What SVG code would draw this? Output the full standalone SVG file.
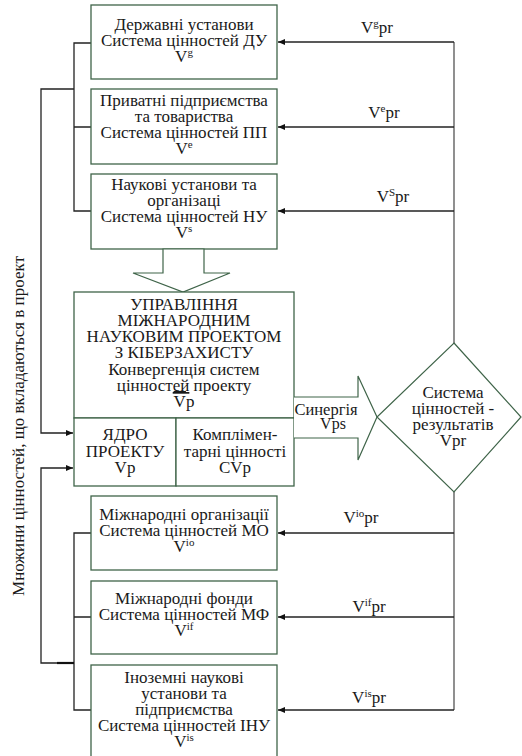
<svg xmlns="http://www.w3.org/2000/svg" width="522" height="756" viewBox="0 0 522 756">
<defs>
<style>
.box{fill:#fff;stroke:#3f6449;stroke-width:1.3}
.shape{fill:#fff;stroke:#3f6449;stroke-width:1.2}
.t{font-family:'Liberation Serif','Times New Roman',serif;font-size:17px;fill:#1a1a1a;text-anchor:middle}
.sup{font-size:11px}
.ln{fill:none;stroke:#222;stroke-width:1.3}
.lg{fill:none;stroke:#555;stroke-width:1.3}
</style>
<marker id="ah" markerWidth="8" markerHeight="6" refX="7" refY="3" orient="auto" markerUnits="userSpaceOnUse">
<path d="M0,0 L7,3 L0,6 Z" fill="#111"/>
</marker>
</defs>
<rect width="522" height="756" fill="#fff"/>

<g id="connectors">
<path class="lg" d="M454,42 V343 M454,492 V710"/>
<path class="ln" d="M454,42 H278" marker-end="url(#ah)"/>
<path class="ln" d="M454,127 H278" marker-end="url(#ah)"/>
<path class="ln" d="M454,211 H278" marker-end="url(#ah)"/>
<path class="ln" d="M454,533 H278" marker-end="url(#ah)"/>
<path class="ln" d="M454,617 H278" marker-end="url(#ah)"/>
<path class="ln" d="M454,710 H278" marker-end="url(#ah)"/>
<path class="ln" d="M91,43 H74 V211 H91 M74,127 H91"/>
<path class="ln" d="M74,89 H41 V433 H73" marker-end="url(#ah)"/>
<path class="ln" d="M91,533 H74 V710 H91 M74,617 H91"/>
<path class="ln" d="M74,663 H41 V468 H73" marker-end="url(#ah)"/>
<path d="M57,663 H74" stroke="#111" stroke-width="2.2"/>
<text class="t" x="377" y="33">V<tspan class="sup" dy="-6">g</tspan><tspan dy="6">pr</tspan></text>
<text class="t" x="384" y="118">V<tspan class="sup" dy="-6">e</tspan><tspan dy="6">pr</tspan></text>
<text class="t" x="393" y="202">V<tspan class="sup" dy="-6">S</tspan><tspan dy="6">pr</tspan></text>
<text class="t" x="361" y="523">V<tspan class="sup" dy="-6">io</tspan><tspan dy="6">pr</tspan></text>
<text class="t" x="369" y="612">V<tspan class="sup" dy="-6">if</tspan><tspan dy="6">pr</tspan></text>
<text class="t" x="369" y="703">V<tspan class="sup" dy="-6">is</tspan><tspan dy="6">pr</tspan></text>
</g>

<g id="label-left">
<text class="t" transform="translate(24,426) rotate(-90)">Множини цінностей, що вкладаються в проект</text>
</g>

<g id="node-du">
<rect class="box" x="91" y="5" width="186" height="74"/>
<text class="t" x="184" y="30">Державні установи</text>
<text class="t" x="184" y="46">Система цінностей ДУ</text>
<text class="t" x="184" y="62">V<tspan class="sup" dy="-6">g</tspan></text>
</g>

<g id="node-pp">
<rect class="box" x="91" y="89" width="186" height="75"/>
<text class="t" x="184" y="106">Приватні підприємства</text>
<text class="t" x="184" y="122">та товариства</text>
<text class="t" x="184" y="138">Система цінностей ПП</text>
<text class="t" x="184" y="154">V<tspan class="sup" dy="-6">e</tspan></text>
</g>

<g id="node-nu">
<rect class="box" x="91" y="174" width="186" height="75"/>
<text class="t" x="184" y="190">Наукові установи та</text>
<text class="t" x="184" y="206">організаці</text>
<text class="t" x="184" y="222">Система цінностей НУ</text>
<text class="t" x="184" y="238">V<tspan class="sup" dy="-6">s</tspan></text>
</g>

<g id="arrow-down">
<polygon class="shape" points="163,249 204,249 204,273 230,273 183,292 133,273 163,273"/>
</g>

<g id="node-main">
<rect class="box" x="74" y="292" width="220" height="126"/>
<text class="t" x="184" y="310">УПРАВЛІННЯ</text>
<text class="t" x="184" y="326">МІЖНАРОДНИМ</text>
<text class="t" x="184" y="342">НАУКОВИМ ПРОЕКТОМ</text>
<text class="t" x="184" y="358">З КІБЕРЗАХИСТУ</text>
<text class="t" x="184" y="375">Конвергенція систем</text>
<text class="t" x="184" y="391">цінност<tspan text-decoration="underline">ей</tspan> проекту</text>
<text class="t" x="184" y="407"><tspan text-decoration="overline">V</tspan>p</text>
</g>

<g id="node-core">
<rect class="box" x="74" y="418" width="102" height="68"/>
<text class="t" x="125" y="440">ЯДРО</text>
<text class="t" x="125" y="457">ПРОЕКТУ</text>
<text class="t" x="125" y="473">Vp</text>
</g>

<g id="node-compl">
<rect class="box" x="176" y="418" width="118" height="68"/>
<text class="t" x="235" y="440">Комплімен-</text>
<text class="t" x="235" y="457">тарні цінності</text>
<text class="t" x="235" y="473">CVp</text>
</g>

<g id="arrow-synergy">
<path d="M294,397 H358 V376 L377,417 L358,460 V438 H294 Z" fill="#fff"/>
<path class="shape" d="M294,397 H358 V376 L377,417 L358,460 V438 H294" fill="none"/>
<text class="t" x="326" y="415" style="font-size:16.5px">Синергія</text>
<text class="t" x="333" y="429" style="font-size:16px">Vps</text>
</g>

<g id="node-result">
<polygon class="shape" points="454,343 521,417 454,492 377,417"/>
<text class="t" x="453" y="398">Система</text>
<text class="t" x="453" y="414">цінностей -</text>
<text class="t" x="453" y="430">результатів</text>
<text class="t" x="453" y="446">Vpr</text>
</g>

<g id="node-mo">
<rect class="box" x="91" y="496" width="186" height="74"/>
<text class="t" x="184" y="520">Міжнародні організації</text>
<text class="t" x="184" y="536">Система цінностей МО</text>
<text class="t" x="184" y="552">V<tspan class="sup" dy="-6">io</tspan></text>
</g>

<g id="node-mf">
<rect class="box" x="91" y="581" width="186" height="73"/>
<text class="t" x="184" y="604">Міжнародні фонди</text>
<text class="t" x="184" y="620">Система цінностей МФ</text>
<text class="t" x="184" y="636">V<tspan class="sup" dy="-6">if</tspan></text>
</g>

<g id="node-inu">
<rect class="box" x="91" y="665" width="186" height="95"/>
<text class="t" x="184" y="683">Іноземні наукові</text>
<text class="t" x="184" y="699">установи та</text>
<text class="t" x="184" y="715">підприємства</text>
<text class="t" x="184" y="731">Система цінностей ІНУ</text>
<text class="t" x="184" y="747">V<tspan class="sup" dy="-6">is</tspan></text>
</g>
</svg>
